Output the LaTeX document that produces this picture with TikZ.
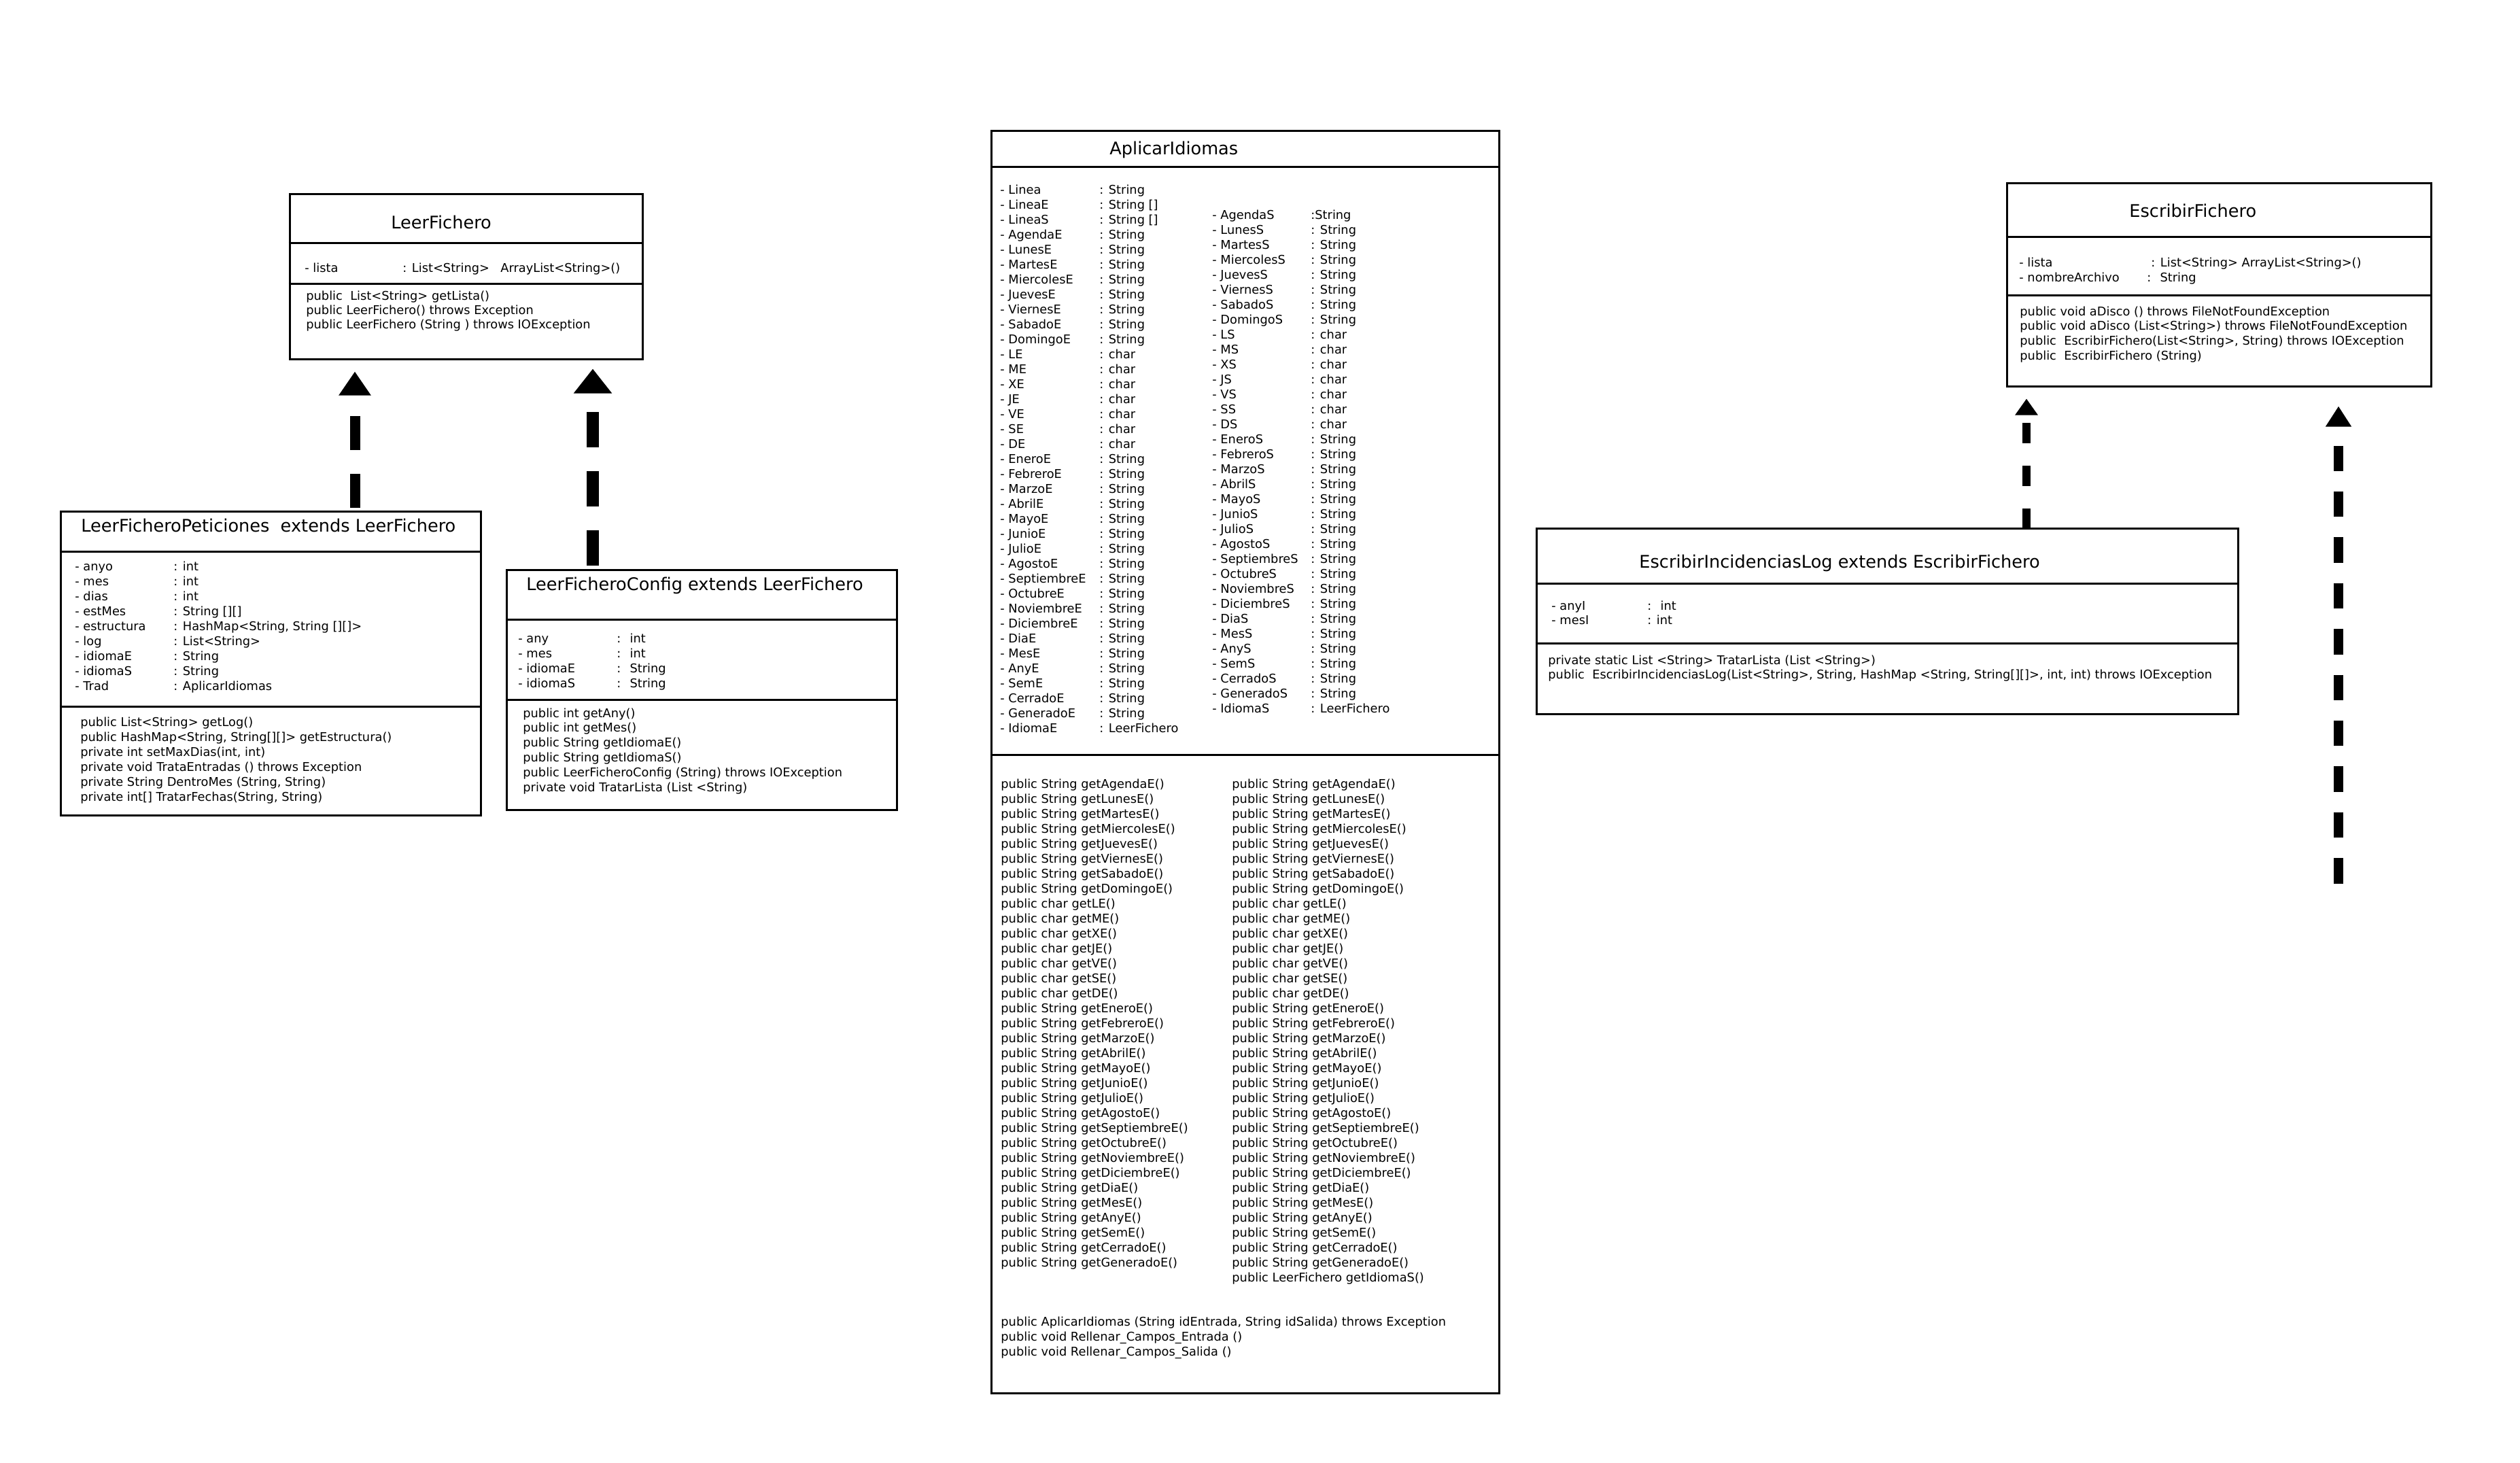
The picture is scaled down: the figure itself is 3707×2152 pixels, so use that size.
\documentclass[tikz,border=0pt]{standalone}
\usepackage{fontspec}
\setmainfont{DejaVu Sans}
\usetikzlibrary{arrows.meta,fit}

\tikzset{
  classbox/.style={draw, line width=1.5pt, inner sep=0pt},
  divline/.style={line width=1.5pt},
  txt/.style={anchor=base west, inner sep=0pt, font=\fontsize{8.9}{11}\selectfont},
  ctitle/.style={anchor=base west, inner sep=0pt, font=\fontsize{12.8}{15}\selectfont},
  implArrow/.style={line width=7.5pt, {Triangle[width=22.5pt,length=17.5pt]}-}
}

\def\getlist{String/AgendaE, String/LunesE, String/MartesE, String/MiercolesE, String/JuevesE, String/ViernesE, String/SabadoE, String/DomingoE, char/LE, char/ME, char/XE, char/JE, char/VE, char/SE, char/DE, String/EneroE, String/FebreroE, String/MarzoE, String/AbrilE, String/MayoE, String/JunioE, String/JulioE, String/AgostoE, String/SeptiembreE, String/OctubreE, String/NoviembreE, String/DiciembreE, String/DiaE, String/MesE, String/AnyE, String/SemE, String/CerradoE, String/GeneradoE}

\begin{document}
\begin{tikzpicture}[x=0.5pt,y=-0.5pt]
\useasboundingbox (0,0) rectangle (3707,2152);

% LeerFichero
\node[classbox, fit={(426,285) (945,528)}] (leerFichero) {};
\draw[divline] (leerFichero.west |- 0,357) -- (leerFichero.east |- 0,357);
\draw[divline] (leerFichero.west |- 0,417) -- (leerFichero.east |- 0,417);
\node[ctitle] (lfTitle) at (575,336) {LeerFichero};
\node[txt] (lfAttr) at (448,400) {- lista};
\node[txt] (lfType) at (592,400) {: List<String>};
\node[txt] (lfNew) at (736,400) {ArrayList<String>()};
\foreach \m [count=\i from 0] in {public~ List<String> getLista(), public LeerFichero() throws Exception, public LeerFichero (String ) throws IOException}
  \node[txt] (lfM\i) at (450,441+21*\i) {\m};

% LeerFicheroPeticiones
\node[classbox, fit={(89,752) (707,1199)}] (lfPeticiones) {};
\draw[divline] (lfPeticiones.west |- 0,811) -- (lfPeticiones.east |- 0,811);
\draw[divline] (lfPeticiones.west |- 0,1039) -- (lfPeticiones.east |- 0,1039);
\node[ctitle] (lfpTitle) at (119,782) {LeerFicheroPeticiones~ extends LeerFichero};
\foreach \n/\t [count=\i from 0] in {anyo/int, mes/int, dias/int, estMes/{String [][]}, estructura/{HashMap<String, String [][]>}, log/{List<String>}, idiomaE/String, idiomaS/String, Trad/AplicarIdiomas}{
  \node[txt] (lfpA\i) at (110,839+22*\i) {- \n};
  \node[txt] (lfpT\i) at (255,839+22*\i) {: \t};
}
\foreach \m [count=\i from 0] in {public List<String> getLog(), {public HashMap<String, String[][]> getEstructura()}, {private int setMaxDias(int, int)}, private void TrataEntradas () throws Exception, {private String DentroMes (String, String)}, {private int[] TratarFechas(String, String)}}
  \node[txt] (lfpM\i) at (118,1068+22*\i) {\m};

% LeerFicheroConfig
\node[classbox, fit={(745,838) (1319,1191)}] (lfConfig) {};
\draw[divline] (lfConfig.west |- 0,911) -- (lfConfig.east |- 0,911);
\draw[divline] (lfConfig.west |- 0,1029) -- (lfConfig.east |- 0,1029);
\node[ctitle] (lfcTitle) at (774,868) {LeerFicheroConfig extends LeerFichero};
\foreach \n/\t [count=\i from 0] in {any/int, mes/int, idiomaE/String, idiomaS/String}{
  \node[txt] (lfcA\i) at (762,945+22*\i) {- \n};
  \node[txt] (lfcT\i) at (907,945+22*\i) {:~ \t};
}
\foreach \m [count=\i from 0] in {public int getAny(), public int getMes(), public String getIdiomaE(), public String getIdiomaS(), public LeerFicheroConfig (String) throws IOException, private void TratarLista (List <String)}
  \node[txt] (lfcM\i) at (769,1055+21.8*\i) {\m};

% AplicarIdiomas
\node[classbox, fit={(1458,192) (2205,2049)}] (aplicar) {};
\draw[divline] (aplicar.west |- 0,245) -- (aplicar.east |- 0,245);
\draw[divline] (aplicar.west |- 0,1110) -- (aplicar.east |- 0,1110);
\node[ctitle] (aiTitle) at (1632,227) {AplicarIdiomas};
\foreach \n/\t [count=\i from 0] in {Linea/String, LineaE/{String []}, LineaS/{String []}, AgendaE/String, LunesE/String, MartesE/String, MiercolesE/String, JuevesE/String, ViernesE/String, SabadoE/String, DomingoE/String, LE/char, ME/char, XE/char, JE/char, VE/char, SE/char, DE/char, EneroE/String, FebreroE/String, MarzoE/String, AbrilE/String, MayoE/String, JunioE/String, JulioE/String, AgostoE/String, SeptiembreE/String, OctubreE/String, NoviembreE/String, DiciembreE/String, DiaE/String, MesE/String, AnyE/String, SemE/String, CerradoE/String, GeneradoE/String, IdiomaE/LeerFichero}{
  \node[txt] (aiEA\i) at (1471,285+22*\i) {- \n};
  \node[txt] (aiET\i) at (1617,285+22*\i) {: \t};
}
\node[txt] (aiSA0) at (1783,322) {- AgendaS};
\node[txt] (aiST0) at (1928,322) {:String};
\foreach \n/\t [count=\i from 1] in {LunesS/String, MartesS/String, MiercolesS/String, JuevesS/String, ViernesS/String, SabadoS/String, DomingoS/String, LS/char, MS/char, XS/char, JS/char, VS/char, SS/char, DS/char, EneroS/String, FebreroS/String, MarzoS/String, AbrilS/String, MayoS/String, JunioS/String, JulioS/String, AgostoS/String, SeptiembreS/String, OctubreS/String, NoviembreS/String, DiciembreS/String, DiaS/String, MesS/String, AnyS/String, SemS/String, CerradoS/String, GeneradoS/String, IdiomaS/LeerFichero}{
  \node[txt] (aiSA\i) at (1783,322+22*\i) {- \n};
  \node[txt] (aiST\i) at (1928,322+22*\i) {: \t};
}
\foreach \r/\m [count=\i from 0] in \getlist{
  \node[txt] (aiM\i) at (1472,1159+22*\i) {public \r\ get\m()};
  \node[txt] (aiN\i) at (1812,1159+22*\i) {public \r\ get\m()};
}
\node[txt] (aiN33) at (1812,1159+22*33) {public LeerFichero getIdiomaS()};
\node[txt] (aiC0) at (1472,1950) {public AplicarIdiomas (String idEntrada, String idSalida) throws Exception};
\node[txt] (aiC1) at (1472,1972) {public void Rellenar\_Campos\_Entrada ()};
\node[txt] (aiC2) at (1472,1994) {public void Rellenar\_Campos\_Salida ()};

% EscribirFichero
\node[classbox, fit={(2952,269) (3576,568)}] (escFichero) {};
\draw[divline] (escFichero.west |- 0,348) -- (escFichero.east |- 0,348);
\draw[divline] (escFichero.west |- 0,434) -- (escFichero.east |- 0,434);
\node[ctitle] (efTitle) at (3132,319) {EscribirFichero};
\node[txt] (efA0) at (2970,392) {- lista};
\node[txt] (efT0) at (3164,392) {: List<String> ArrayList<String>()};
\node[txt] (efA1) at (2970,414) {- nombreArchivo};
\node[txt] (efT1) at (3158,414) {:~ String};
\foreach \m [count=\i from 0] in {public void aDisco () throws FileNotFoundException, public void aDisco (List<String>) throws FileNotFoundException, {public~ EscribirFichero(List<String>, String) throws IOException}, public~ EscribirFichero (String)}
  \node[txt] (efM\i) at (2971,464+21.7*\i) {\m};

% EscribirIncidenciasLog
\node[classbox, fit={(2260,777) (3292,1050)}] (escLog) {};
\draw[divline] (escLog.west |- 0,858) -- (escLog.east |- 0,858);
\draw[divline] (escLog.west |- 0,946) -- (escLog.east |- 0,946);
\node[ctitle] (elTitle) at (2411,835) {EscribirIncidenciasLog extends EscribirFichero};
\node[txt] (elA0) at (2282,897) {- anyI};
\node[txt] (elT0) at (2423,897) {:~ int};
\node[txt] (elA1) at (2282,918) {- mesI};
\node[txt] (elT1) at (2423,918) {: int};
\node[txt] (elM0) at (2277,977) {private static List <String> TratarLista (List <String>)};
\node[txt] (elM1) at (2277,998) {public~ EscribirIncidenciasLog(List<String>, String, HashMap <String, String[][]>, int, int) throws IOException};

% herencia
\draw[implArrow, dash pattern=on 25pt off 17.5pt, dash phase=26pt, shorten <=8.5pt] (leerFichero.south -| 522,0) -- (lfPeticiones.north -| 522,0);
\draw[implArrow, line width=9pt, {Triangle[width=27pt,length=18pt]}-, dash pattern=on 26pt off 17.5pt, dash phase=28.5pt, shorten <=6.5pt] (leerFichero.south -| 872,0) -- (lfConfig.north -| 872,0);
\draw[implArrow, line width=6pt, {Triangle[width=16pt,length=12pt]}-, dash pattern=on 15pt off 16.5pt, dash phase=25pt, shorten <=8.5pt] (escFichero.south -| 2981,0) -- (escLog.north -| 2981,0);
\coordinate (efFree) at (3440,1300);
\draw[implArrow, line width=7pt, {Triangle[width=18pt,length=15pt]}-, dash pattern=on 18.7pt off 15pt, dash phase=18.7pt, shorten <=14pt] (escFichero.south -| efFree) -- (efFree);
\end{tikzpicture}
\end{document}
